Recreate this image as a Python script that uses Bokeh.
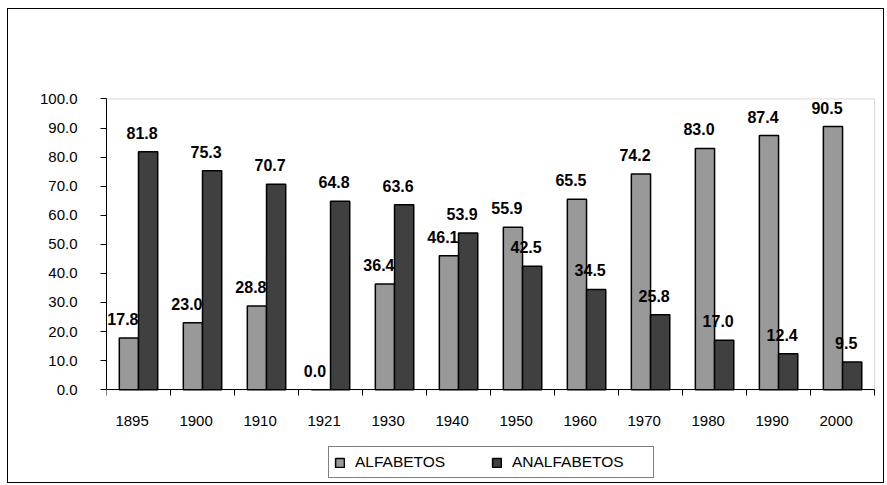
import numpy as np
from bokeh.plotting import figure
from bokeh.models import (ColumnDataSource, FixedTicker, Range1d, Legend,
                          LegendItem, NumeralTickFormatter, BoxAnnotation)
from bokeh.core.properties import value
from bokeh.embed import file_html
from bokeh.resources import INLINE

years = ["1895", "1900", "1910", "1921", "1930", "1940", "1950", "1960",
         "1970", "1980", "1990", "2000"]
alfabetos = [17.8, 23.0, 28.8, 0.0, 36.4, 46.1, 55.9, 65.5, 74.2, 83.0, 87.4, 90.5]
analfabetos = [81.8, 75.3, 70.7, 64.8, 63.6, 53.9, 42.5, 34.5, 25.8, 17.0, 12.4, 9.5]
y_ticks = [0, 10, 20, 30, 40, 50, 60, 70, 80, 90, 100]

FONT = "Liberation Sans"
GRAY = "#999999"
DARK = "#404040"
BW = 0.3
N = len(years)
Y_TOP = 100
# the frame is extended below zero so that the legend can sit inside it
Y_LO, Y_HI = -32.6, 100.5
X_HI = N + 0.03
LABEL_SHIFT = 0.1   # category labels sit slightly left of centre, as in the original

idx = np.arange(N)
centers = idx + 0.5
src = ColumnDataSource(dict(
    xa=centers - BW / 2, xb=centers + BW / 2,
    a=alfabetos, b=analfabetos,
    la=[f"{v:.1f}" for v in alfabetos],
    lb=[f"{v:.1f}" for v in analfabetos],
))

p = figure(width=877, height=475, output_backend="svg", toolbar_location=None,
           x_range=Range1d(0, X_HI), y_range=Range1d(Y_LO, Y_HI),
           min_border_left=98, min_border_top=88, min_border_right=9,
           min_border_bottom=0)
p.styles = {"border": "1px solid black", "margin-left": "7px", "margin-top": "8px"}
p.outline_line_color = None
p.xgrid.visible = False
p.ygrid.visible = False
p.background_fill_color = "white"
p.border_fill_color = "white"

# grey plot-area frame (top and right; left/bottom are covered by the axes)
p.add_layout(BoxAnnotation(left=0, right=N, bottom=0, top=Y_TOP,
                           fill_alpha=0, line_color="#808080", line_width=1,
                           level="underlay"))

ra = p.vbar(x="xa", top="a", width=BW, source=src, fill_color=GRAY,
            line_color="black", line_width=1.5)
rb = p.vbar(x="xb", top="b", width=BW, source=src, fill_color=DARK,
            line_color="black", line_width=1.5)

for xcol, ycol, lcol in (("xa", "a", "la"), ("xb", "b", "lb")):
    p.text(x=xcol, y=ycol, text=lcol, source=src, x_offset=-6, y_offset=-13,
           text_align="center", text_baseline="bottom",
           text_font=value(FONT), text_font_style="bold",
           text_font_size="16px", text_color="black")

# x axis at y=0: labels near centres, tick marks at boundaries
label_pos = [float(round(c - LABEL_SHIFT, 3)) for c in centers]
xa = p.xaxis[0]
xa.fixed_location = 0
xa.bounds = (0, N)
xa.ticker = FixedTicker(ticks=label_pos, minor_ticks=list(range(N + 1)))
xa.major_label_overrides = {c: y for c, y in zip(label_pos, years)}
xa.major_tick_out = 0
xa.major_tick_in = 0
xa.minor_tick_out = 6
xa.minor_tick_in = 0
xa.minor_tick_line_color = "black"
xa.axis_line_color = "black"
xa.major_label_standoff = 20
xa.major_label_text_font = FONT
xa.major_label_text_font_size = "15px"
xa.major_label_text_color = "black"

ya = p.yaxis[0]
ya.bounds = (0, Y_TOP)
ya.ticker = FixedTicker(ticks=y_ticks)
ya.formatter = NumeralTickFormatter(format="0.0")
ya.major_tick_out = 6
ya.major_tick_in = 0
ya.minor_tick_line_color = None
ya.axis_line_color = "black"
ya.major_tick_line_color = "black"
ya.major_label_standoff = 23
ya.major_label_text_font = FONT
ya.major_label_text_font_size = "15px"
ya.major_label_text_color = "black"

legend = Legend(items=[LegendItem(label="ALFABETOS", renderers=[ra]),
                       LegendItem(label="ANALFABETOS", renderers=[rb])],
                orientation="horizontal", location=(222, 6),
                padding=5, spacing=0, margin=0,
                glyph_width=11, glyph_height=11, label_standoff=10,
                label_width=136, label_height=20,
                label_text_font=FONT, label_text_font_size="15.5px",
                label_text_color="black",
                border_line_color="black", border_line_width=1,
                background_fill_color="white", background_fill_alpha=1)
p.add_layout(legend, "center")

open("out.html", "w").write(file_html(p, INLINE))
